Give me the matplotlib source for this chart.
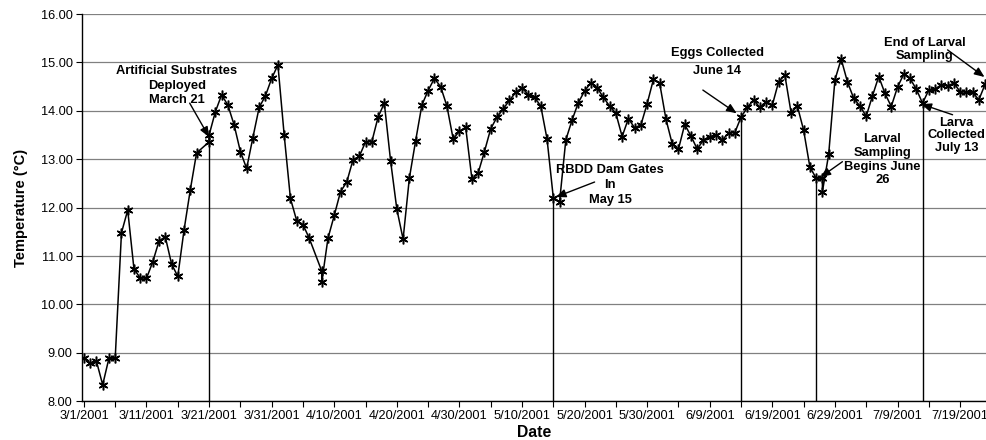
import numpy as np
import matplotlib
matplotlib.use('Agg')
import matplotlib.pyplot as plt

plt.rcParams['font.family'] = ['Liberation Sans', 'DejaVu Sans']

# days since 3/1/2001 (two readings logged on 3/21, 4/8 and 6/27)
days = (list(range(0, 19)) + [20, 20] + list(range(21, 37)) + [38, 38]
        + list(range(39, 118)) + [118, 118] + list(range(119, 145)))

temps = [8.89, 8.79, 8.83, 8.34, 8.89, 8.89, 11.48, 11.95, 10.73, 10.55,
         10.54, 10.88, 11.31, 11.40, 10.84, 10.58, 11.54, 12.37, 13.13,
         13.36, 13.50,
         13.98, 14.33, 14.12, 13.71, 13.16, 12.81, 13.45, 14.07, 14.31, 14.67,
         14.95, 13.50, 12.19, 11.73, 11.65, 11.37,
         10.69, 10.46,
         11.37, 11.84, 12.33, 12.53, 12.99, 13.06, 13.36, 13.36, 13.87, 14.16,
         12.97, 11.97, 11.35, 12.61, 13.38, 14.12, 14.42, 14.67, 14.50, 14.10,
         13.42, 13.58, 13.66, 12.59, 12.72, 13.16, 13.63, 13.87, 14.04, 14.22,
         14.38, 14.48, 14.33, 14.28, 14.10, 13.42, 12.21, 12.12, 13.40, 13.81,
         14.17, 14.41, 14.58, 14.48, 14.28, 14.10, 13.95, 13.47, 13.84, 13.65,
         13.71, 14.15, 14.65, 14.57, 13.83, 13.32, 13.21, 13.72, 13.48, 13.21,
         13.40, 13.47, 13.50, 13.40, 13.54, 13.55, 13.87, 14.07, 14.23, 14.07,
         14.19, 14.12, 14.60, 14.74, 13.96, 14.10, 13.60, 12.84, 12.61,
         12.61, 12.33,
         13.10, 14.64, 15.07, 14.60, 14.26, 14.10, 13.89, 14.31, 14.71, 14.36,
         14.09, 14.49, 14.76, 14.67, 14.45, 14.16, 14.43, 14.45, 14.54, 14.52,
         14.57, 14.40, 14.38, 14.38, 14.23, 14.55]

tick_days = list(range(0, 145, 10))
tick_labels = ['3/1/2001', '3/11/2001', '3/21/2001', '3/31/2001', '4/10/2001',
               '4/20/2001', '4/30/2001', '5/10/2001', '5/20/2001', '5/30/2001',
               '6/9/2001', '6/19/2001', '6/29/2001', '7/9/2001', '7/19/2001']

# sampling events (days since 3/1)
event_days = [20, 75, 105, 117, 134]

fig = plt.figure(figsize=(9.87, 4.4), dpi=100)
ax = fig.add_axes([0.0828, 0.088, 0.9172, 0.88])

ax.plot(days, temps, color='black', lw=1.1, marker=(6, 2, 0), ms=7,
        mew=1.1, mfc='black', mec='black', zorder=3)

# drop lines from the event readings to the axis
for d in event_days:
    v = temps[days.index(d)]
    ax.vlines(d, 8, v, color='black', lw=1.0, zorder=2)

ax.set_xlim(-0.35, 144.3)
ax.set_ylim(8, 16)
ax.set_yticks(np.arange(8, 16.01, 1))
ax.set_yticklabels(['%.2f' % t for t in np.arange(8, 16.01, 1)])
ax.set_xticks(tick_days)
ax.set_xticklabels(tick_labels)
ax.set_xticks(range(5, 145, 10), minor=True)
ax.tick_params(axis='both', which='both', direction='out', length=4,
               width=0.8, labelsize=9.2, pad=2.5)
ax.grid(axis='y', color='#808080', lw=0.9)
ax.set_axisbelow(True)
for s in ['top', 'right']:
    ax.spines[s].set_visible(False)
ax.spines['left'].set_linewidth(1.0)
ax.spines['bottom'].set_linewidth(1.0)

ax.set_xlabel('Date', fontsize=11.3, fontweight='bold', labelpad=2)
ax.set_ylabel('Temperature (°C)', fontsize=10.5, fontweight='bold', labelpad=9)

tkw = dict(fontsize=9.3, fontweight='bold', ha='center', va='center',
           zorder=4)
akw = dict(arrowstyle='-|>,head_length=0.6,head_width=0.25', color='black',
           lw=1.0, shrinkA=0, shrinkB=0)

ax.text(14.86, 14.52, 'Artificial Substrates\nDeployed\nMarch 21',
        linespacing=1.25, **tkw)
ax.annotate('', xy=(20, 13.46), xytext=(16.9, 14.16), arrowprops=akw)

ax.text(84.1, 12.47, 'RBDD Dam Gates\nIn\nMay 15', linespacing=1.3, **tkw)
ax.annotate('', xy=(75.4, 12.22), xytext=(81.6, 12.53), arrowprops=akw)

ax.text(101.2, 15.19, 'Eggs Collected', **tkw)
ax.text(101.2, 14.83, 'June 14', **tkw)
ax.annotate('', xy=(104.3, 13.95), xytext=(98.9, 14.43), arrowprops=akw)

ax.text(127.6, 12.99, 'Larval\nSampling\nBegins June\n26', linespacing=1.2,
        **tkw)
ax.annotate('', xy=(117.7, 12.63), xytext=(121.2, 12.95), arrowprops=akw)

ax.text(134.3, 15.26, 'End of Larval\nSampling', linespacing=1.1, **tkw)
ax.annotate('', xy=(143.9, 14.70), xytext=(138.0, 15.26), arrowprops=akw)

ax.text(139.4, 13.50, 'Larva\nCollected\nJuly 13', linespacing=1.05, **tkw)
ax.annotate('', xy=(133.8, 14.14), xytext=(138.8, 13.92), arrowprops=akw)

fig.savefig('out.png', dpi=100)
